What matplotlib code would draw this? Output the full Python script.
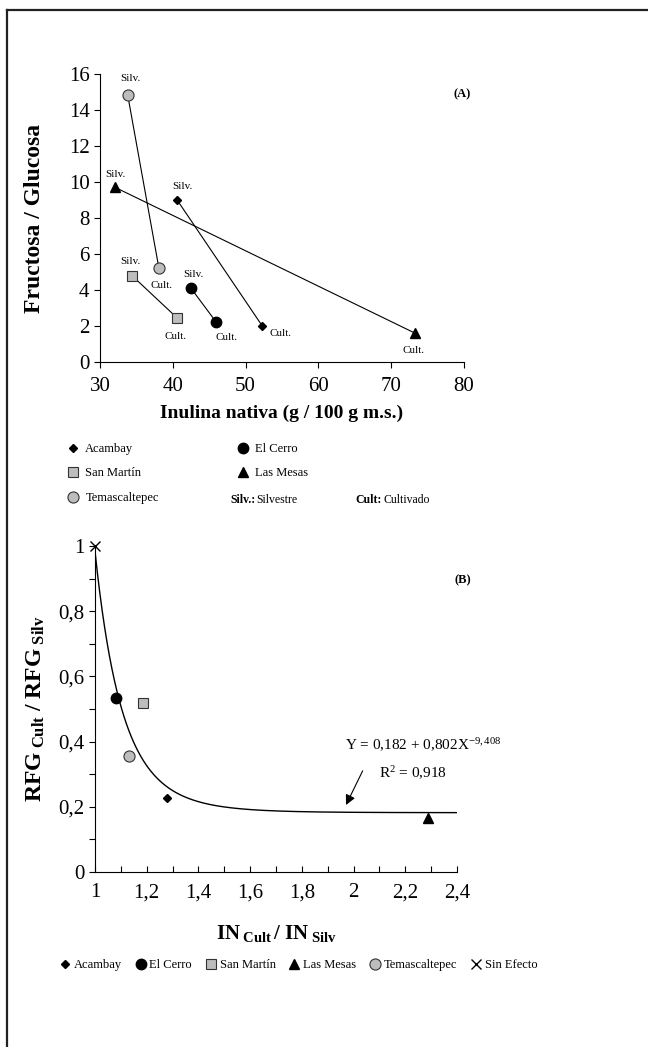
import matplotlib
matplotlib.use("Agg")
import matplotlib.pyplot as plt
from matplotlib.lines import Line2D
from matplotlib.ticker import MultipleLocator, FuncFormatter
import numpy as np

plt.rcParams["font.family"] = ["Liberation Serif", "DejaVu Serif"]
plt.rcParams["mathtext.fontset"] = "custom"
plt.rcParams["mathtext.rm"] = "Liberation Serif"
plt.rcParams["mathtext.it"] = "Liberation Serif:italic"
plt.rcParams["mathtext.bf"] = "Liberation Serif:bold"

# ---- data, panel A ----
sites = ["Acambay", "El Cerro", "San Martín", "Las Mesas", "Temascaltepec"]
inulina_silv = [40.6, 42.5, 34.4, 32.1, 33.8]
inulina_cult = [52.3, 46.0, 40.6, 73.3, 38.1]
fg_silv = [9.0, 4.1, 4.8, 9.7, 14.85]
fg_cult = [2.0, 2.2, 2.45, 1.6, 5.2]

# ---- data, panel B ----
in_ratio = [1.28, 1.08, 1.187, 2.288, 1.133]
rfg_ratio = [0.228, 0.535, 0.517, 0.166, 0.357]
sin_efecto = (1.0, 1.0)
fit_a, fit_b, fit_c = 0.182, 0.802, -9.408

a_xticks = [30, 40, 50, 60, 70, 80]
a_yticks = [0, 2, 4, 6, 8, 10, 12, 14, 16]
b_xticks = [1, 1.2, 1.4, 1.6, 1.8, 2, 2.2, 2.4]
b_yticks = [0, 0.2, 0.4, 0.6, 0.8, 1]

# marker styles per site
gray = "#bdbdbd"
styles = {
    "Acambay": dict(marker="D", ms=4.5, mfc="black", mec="black"),
    "El Cerro": dict(marker="o", ms=7.5, mfc="black", mec="black"),
    "San Martín": dict(marker="s", ms=6.5, mfc=gray, mec="#333333", mew=0.8),
    "Las Mesas": dict(marker="^", ms=6.5, mfc="black", mec="black"),
    "Temascaltepec": dict(marker="o", ms=8, mfc=gray, mec="#333333", mew=0.8),
}
# label offsets (points) for Silv. / Cult.
silv_off = [(4, 10), (2, 10), (-1, 10), (0, 9), (2, 12)]
cult_off = [(13, -5.5), (7, -11), (-1, -13), (-1, -12.5), (2, -12)]

fig = plt.figure(figsize=(6.48, 10.47), dpi=100)

# outer frame (left and top edges visible)
fig.add_artist(Line2D([0.011, 0.011], [0.0, 0.9905], transform=fig.transFigure, color="#222222", lw=1.6))
fig.add_artist(Line2D([0.011, 1.0], [0.9905, 0.9905], transform=fig.transFigure, color="#222222", lw=1.6))

comma = FuncFormatter(lambda v, p: ("%g" % v).replace(".", ","))

# ================= panel A =================
axA = fig.add_axes([0.1543, 0.6542, 0.5617, 0.2751])
for i, s in enumerate(sites):
    axA.plot([inulina_silv[i], inulina_cult[i]], [fg_silv[i], fg_cult[i]],
             color="black", lw=0.8, zorder=1)
    axA.plot([inulina_silv[i], inulina_cult[i]], [fg_silv[i], fg_cult[i]],
             ls="none", zorder=2, **styles[s])
    axA.annotate("Silv.", (inulina_silv[i], fg_silv[i]), textcoords="offset points",
                 xytext=silv_off[i], ha="center", va="center", fontsize=8)
    axA.annotate("Cult.", (inulina_cult[i], fg_cult[i]), textcoords="offset points",
                 xytext=cult_off[i], ha="center", va="center", fontsize=8)

axA.set_xlim(30, 80)
axA.set_ylim(0, 16)
axA.set_xticks(a_xticks)
axA.set_yticks(a_yticks)
axA.spines["top"].set_visible(False)
axA.spines["right"].set_visible(False)
axA.tick_params(direction="out", labelsize=15, length=4, width=0.8)
axA.tick_params(axis="x", pad=7)
axA.set_xlabel("Inulina nativa (g / 100 g m.s.)", fontsize=14, fontweight="bold", labelpad=6)
axA.set_ylabel("Fructosa / Glucosa", fontsize=17, fontweight="bold", labelpad=17)
axA.text(1.02, 0.93, "(A)", transform=axA.transAxes, ha="right", va="center",
         fontsize=9, fontweight="bold")

handlesA = [Line2D([], [], ls="none", **styles[s]) for s in
            ["Acambay", "San Martín", "Temascaltepec", "El Cerro", "Las Mesas"]]
fig.legend(handlesA, ["Acambay", "San Martín", "Temascaltepec", "El Cerro", "Las Mesas"],
           ncol=2, loc="upper left", bbox_to_anchor=(0.095, 1 - 438 / 1047), frameon=False,
           fontsize=9, handletextpad=0.5, columnspacing=6.2, labelspacing=1.0,
           handlelength=1.0, borderaxespad=0)
fig.text(230 / 648, 1 - 500 / 1047, "Silv.:", fontsize=8.5, fontweight="bold", va="center")
fig.text(256 / 648, 1 - 500 / 1047, "Silvestre", fontsize=8.5, va="center")
fig.text(355 / 648, 1 - 500 / 1047, "Cult:", fontsize=8.5, fontweight="bold", va="center")
fig.text(384 / 648, 1 - 500 / 1047, "Cultivado", fontsize=8.5, va="center")

# ================= panel B =================
axB = fig.add_axes([0.1466, 0.1671, 0.5586, 0.3114])
xs = np.linspace(1, 2.4, 300)
axB.plot(xs, fit_a + fit_b * xs ** fit_c, color="black", lw=1.0, zorder=1)
for i, s in enumerate(sites):
    axB.plot(in_ratio[i], rfg_ratio[i], ls="none", zorder=2, **styles[s])
axB.plot(*sin_efecto, marker="x", ms=7, color="black", mew=1.0, ls="none", clip_on=False, zorder=3)

axB.set_xlim(1, 2.4)
axB.set_ylim(0, 1)
axB.set_xticks(b_xticks)
axB.set_yticks(b_yticks)
axB.xaxis.set_minor_locator(MultipleLocator(0.1))
axB.yaxis.set_minor_locator(MultipleLocator(0.1))
axB.xaxis.set_major_formatter(comma)
axB.yaxis.set_major_formatter(comma)
axB.spines["top"].set_visible(False)
axB.spines["right"].set_visible(False)
axB.tick_params(axis="y", which="both", direction="out", length=4, width=0.8, labelsize=15)
axB.tick_params(axis="x", which="both", direction="in", length=4, width=0.8, labelsize=15, pad=8)
axB.set_xlabel(r"$\mathbf{IN}_{\ \mathbf{Cult}}\,\mathbf{/\ IN}_{\ \mathbf{Silv}}$", fontsize=15, labelpad=15)
axB.set_ylabel(r"$\mathbf{RFG}_{\ \mathbf{Cult}}\ \mathbf{/\ RFG}_{\ \mathbf{Silv}}$", fontsize=17, labelpad=8)
axB.text(1.04, 0.895, "(B)", transform=axB.transAxes, ha="right", va="center",
         fontsize=9, fontweight="bold")

axB.text(1.967, 0.39, r"Y = 0,182 + 0,802X$^{\mathrm{-9,408}}$", fontsize=11,
         ha="left", va="center", clip_on=False)
axB.text(2.10, 0.302, r"R$^{2}$ = 0,918", fontsize=11, ha="left", va="center")
axB.annotate("", xy=(1.966, 0.198), xytext=(2.04, 0.318),
             arrowprops=dict(arrowstyle="-|>", color="black", lw=0.8, mutation_scale=15))

order_b = ["Acambay", "El Cerro", "San Martín", "Las Mesas", "Temascaltepec"]
handlesB = [Line2D([], [], ls="none", **styles[s]) for s in order_b]
handlesB.append(Line2D([], [], ls="none", marker="x", ms=6.5, color="black", mew=1.0))
fig.legend(handlesB, order_b + ["Sin Efecto"], ncol=6, loc="center",
           bbox_to_anchor=(0.46, 1 - 965 / 1047), frameon=False, fontsize=9,
           handletextpad=0.2, columnspacing=1.0, handlelength=1.0, borderaxespad=0)

fig.savefig("out.png", dpi=100)
